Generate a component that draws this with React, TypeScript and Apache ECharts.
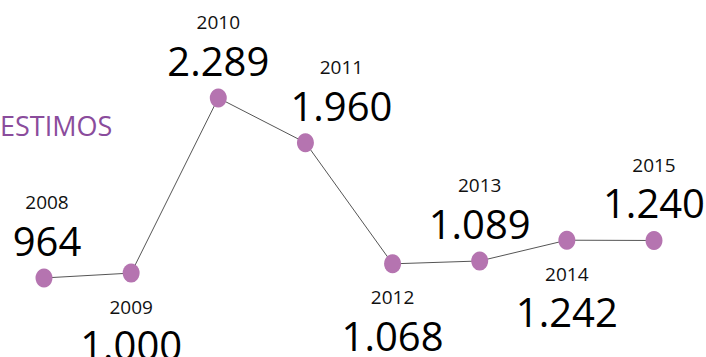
import React, { useEffect, useRef } from "react";
import * as echarts from "echarts";

const years = ["2008", "2009", "2010", "2011", "2012", "2013", "2014", "2015"];
const values = [964, 1000, 2289, 1960, 1068, 1089, 1242, 1240];
const labelSides = ["top", "bottom", "top", "top", "bottom", "top", "bottom", "top"];
const labelShiftX = [3, 0, 0, 36, 0, 0, 0, 0];
const title = "ESTIMOS";

const fmt = (v: number) => String(v).replace(/\B(?=(\d{3})+(?!\d))/g, ".");

export default function App() {
  const ref = useRef<HTMLDivElement>(null);
  useEffect(() => {
    if (!ref.current) return;
    const chart = echarts.init(ref.current, undefined, { renderer: "svg" });
    const font = "'Open Sans', sans-serif";
    chart.setOption({
      animation: false,
      backgroundColor: "#ffffff",
      grid: { left: 44, right: 52, top: 69.3, bottom: 16 },
      xAxis: {
        type: "category",
        data: years,
        boundaryGap: false,
        show: false,
      },
      yAxis: {
        type: "value",
        min: 500,
        max: 2500,
        show: false,
      },
      graphic: [
        {
          type: "text",
          left: 0,
          top: 112,
          style: {
            text: title,
            fill: "#8a4c9c",
            font: `normal 27px ${font}`,
          },
        },
      ],
      series: [
        {
          type: "line",
          data: values.map((v, i) => ({
            value: v,
            label: {
              position: labelSides[i],
              offset: [labelShiftX[i], 0],
            },
          })),
          symbol: "circle",
          symbolSize: [17, 19],
          itemStyle: { color: "#b574b0" },
          lineStyle: { color: "#555555", width: 1 },
          label: {
            show: true,
            distance: 7,
            formatter: (p: any) => `{y|${years[p.dataIndex]}}\n{v|${fmt(p.value)}}`,
            rich: {
              y: {
                fontFamily: font,
                fontSize: 19,
                fontWeight: "normal",
                lineHeight: 34,
                color: "#111111",
                align: "center",
              },
              v: {
                fontFamily: font,
                fontSize: 40,
                fontWeight: "normal",
                lineHeight: 42,
                color: "#000000",
                align: "center",
              },
            },
          },
        },
      ],
    });
    return () => chart.dispose();
  }, []);
  return (
    <div
      ref={ref}
      style={{ position: "fixed", left: 0, top: 0, width: 706, height: 357, background: "#fff" }}
    />
  );
}
